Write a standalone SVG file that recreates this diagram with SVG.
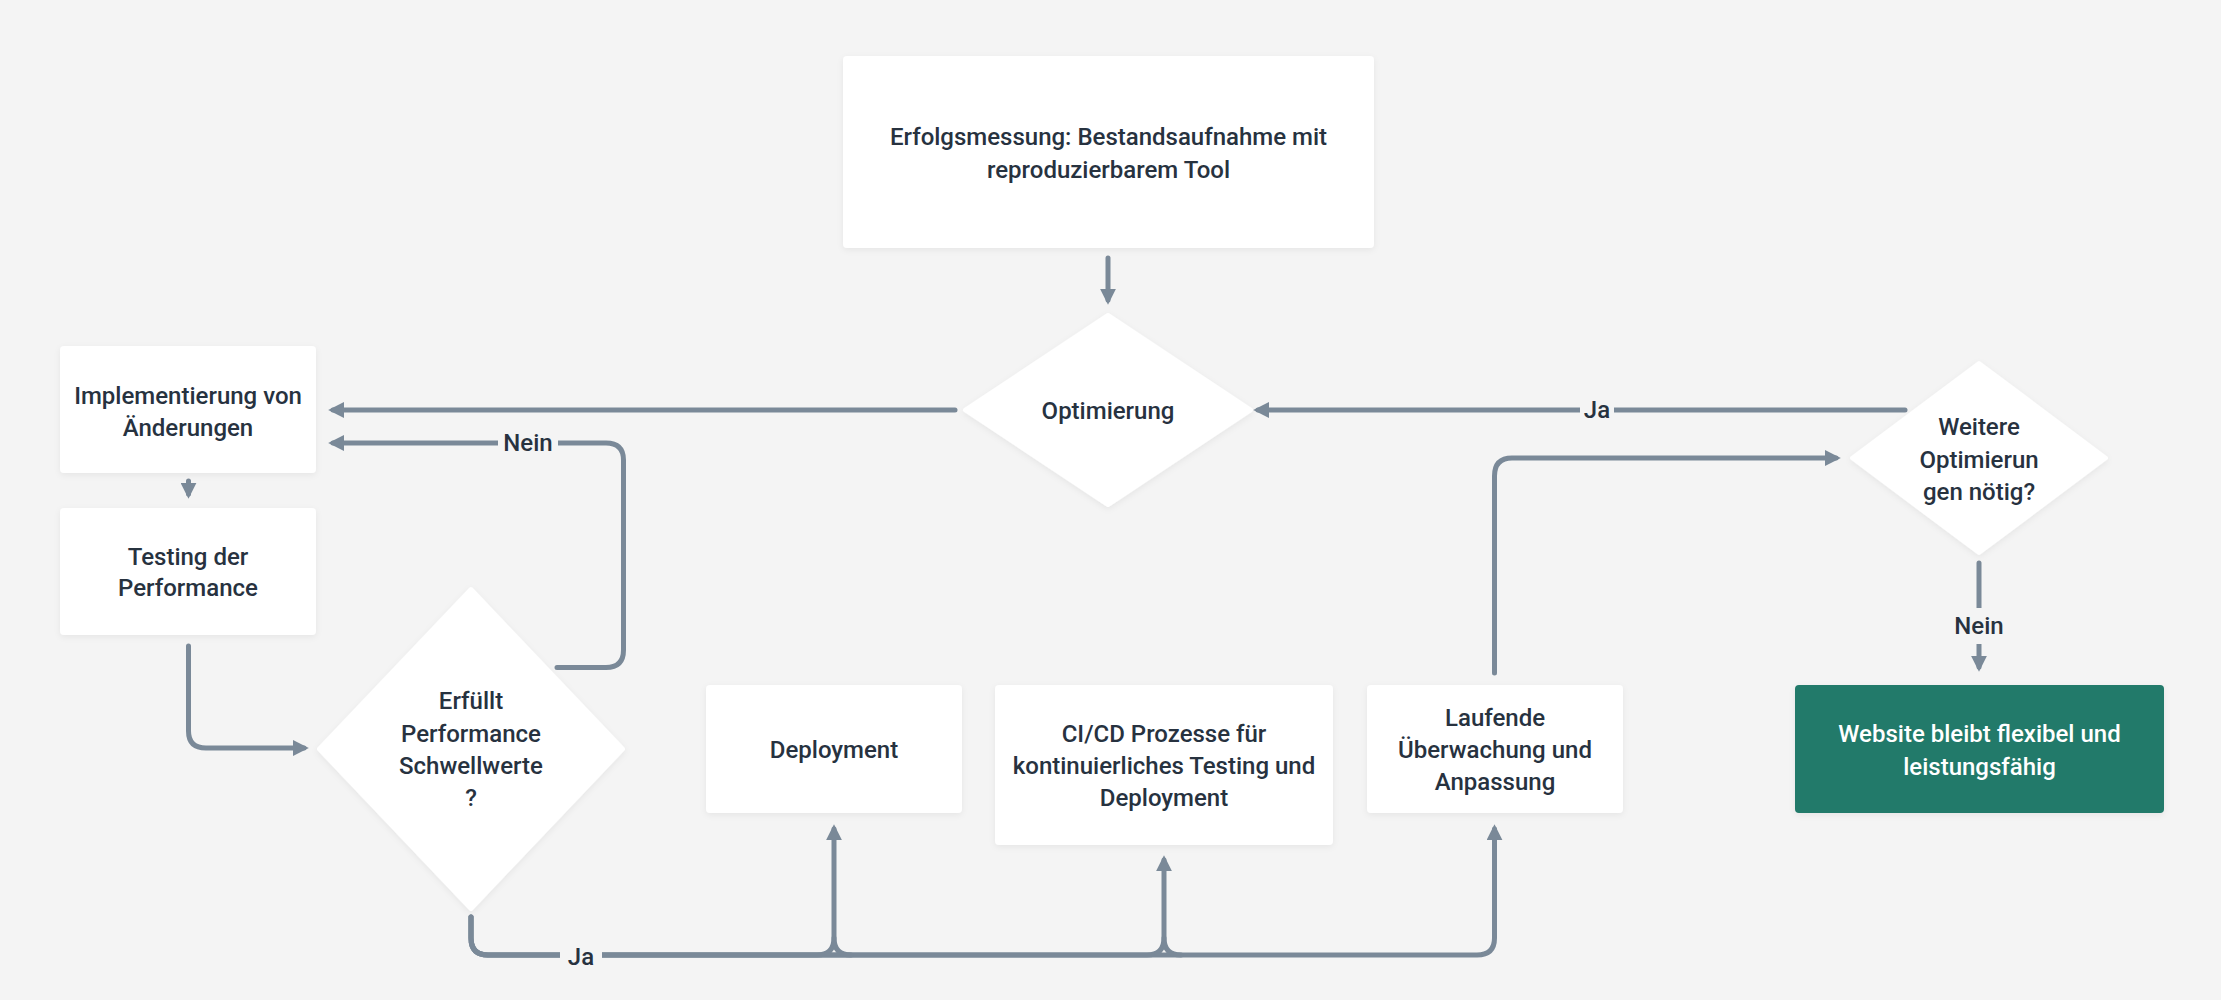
<svg xmlns="http://www.w3.org/2000/svg" width="2221" height="1000" viewBox="0 0 2221 1000">
<defs>
<style>
.bg{fill:#f4f4f4}
.node{fill:#ffffff;filter:url(#sh)}
.term{fill:#207a6a;filter:url(#sh)}
.t{font-family:Roboto,"Liberation Sans",sans-serif;font-size:24px;font-weight:500;fill:#27323f;text-anchor:middle;dominant-baseline:central}
.tw{fill:#ffffff}
.c{fill:none;stroke:#7a8998;stroke-width:5;stroke-linecap:round;stroke-linejoin:round}
.ca{marker-end:url(#ah)}
.lbl{fill:#f4f4f4}
</style>
<filter id="sh" x="-10%" y="-10%" width="120%" height="130%">
<feDropShadow dx="0" dy="2" stdDeviation="3" flood-color="#000" flood-opacity="0.06"/>
</filter>
<marker id="ah" viewBox="0 0 10 10" refX="7" refY="5" markerWidth="3.2" markerHeight="3.2" orient="auto" markerUnits="strokeWidth">
<path d="M0,0 L10,5 L0,10 z" fill="#7a8998"/>
</marker>
</defs>
<rect class="bg" x="0" y="0" width="2221" height="1000"/>

<g id="connectors">
<path class="c ca" d="M1108,258 V300"/>
<path class="c ca" d="M955,410 H333"/>
<path class="c ca" d="M557,667.5 H606 Q623.5,667.5 623.5,650 V460 Q623.5,443 606,443 H333"/>
<path class="c ca" d="M188.5,481 V494"/>
<path class="c ca" d="M188.5,646 V731 Q188.5,748 206,748 H304"/>
<path class="c ca" d="M471,917 V938 Q471,955 488,955 H817 Q834,955 834,938 V829"/>
<path class="c ca" d="M471,917 V938 Q471,955 488,955 H1147 Q1164,955 1164,938 V860"/>
<path class="c ca" d="M471,917 V938 Q471,955 488,955 H1477 Q1494.5,955 1494.5,938 V829"/>
<path class="c" d="M834,938 Q834,955 851,955"/>
<path class="c" d="M1164,938 Q1164,955 1181,955"/>
<path class="c ca" d="M1494.5,673 V476 Q1494.5,458 1512,458 H1836"/>
<path class="c ca" d="M1905,410 H1258"/>
<path class="c ca" d="M1979,563 V667"/>
<rect class="lbl" x="498" y="426" width="60" height="34"/>
<text class="t" x="528" y="443">Nein</text>
<rect class="lbl" x="1580" y="393" width="34" height="34"/>
<text class="t" x="1597" y="410">Ja</text>
<rect class="lbl" x="560" y="940" width="42" height="34"/>
<text class="t" x="581" y="957">Ja</text>
<rect class="lbl" x="1948" y="608" width="62" height="36"/>
<text class="t" x="1979" y="626">Nein</text>
</g>

<g id="n-erfolg">
<rect class="node" x="843" y="56" width="531" height="192" rx="4"/>
<text class="t" x="1108.5" y="137">Erfolgsmessung: Bestandsaufnahme mit</text>
<text class="t" x="1108.5" y="170">reproduzierbarem Tool</text>
</g>
<g id="n-optimierung">
<path class="node" d="M1108,315 L1251,410 L1108,505 L965,410 Z" stroke="#fff" stroke-width="4" stroke-linejoin="round"/>
<text class="t" x="1108" y="411">Optimierung</text>
</g>
<g id="n-impl">
<rect class="node" x="60" y="346" width="256" height="127" rx="4"/>
<text class="t" x="188" y="396">Implementierung von</text>
<text class="t" x="188" y="428">Änderungen</text>
</g>
<g id="n-testing">
<rect class="node" x="60" y="508" width="256" height="127" rx="4"/>
<text class="t" x="188" y="556.5">Testing der</text>
<text class="t" x="188" y="588">Performance</text>
</g>
<g id="n-erfuellt">
<path class="node" d="M471,589 L623,749 L471,909 L319,749 Z" stroke="#fff" stroke-width="4" stroke-linejoin="round"/>
<text class="t" x="471" y="701">Erfüllt</text>
<text class="t" x="471" y="733.5">Performance</text>
<text class="t" x="471" y="766">Schwellwerte</text>
<text class="t" x="471" y="798">?</text>
</g>
<g id="n-deploy">
<rect class="node" x="706" y="685" width="256" height="128" rx="4"/>
<text class="t" x="834" y="750">Deployment</text>
</g>
<g id="n-cicd">
<rect class="node" x="995" y="685" width="338" height="160" rx="4"/>
<text class="t" x="1164" y="734">CI/CD Prozesse für</text>
<text class="t" x="1164" y="766">kontinuierliches Testing und</text>
<text class="t" x="1164" y="798">Deployment</text>
</g>
<g id="n-laufend">
<rect class="node" x="1367" y="685" width="256" height="128" rx="4"/>
<text class="t" x="1495" y="718">Laufende</text>
<text class="t" x="1495" y="750">Überwachung und</text>
<text class="t" x="1495" y="782">Anpassung</text>
</g>
<g id="n-weitere">
<path class="node" d="M1979,363 L2106,458 L1979,553 L1852,458 Z" stroke="#fff" stroke-width="4" stroke-linejoin="round"/>
<text class="t" x="1979" y="427">Weitere</text>
<text class="t" x="1979" y="460">Optimierun</text>
<text class="t" x="1979" y="492">gen nötig?</text>
</g>
<g id="n-website">
<rect class="term" x="1795" y="685" width="369" height="128" rx="4"/>
<text class="t tw" x="1979.5" y="734">Website bleibt flexibel und</text>
<text class="t tw" x="1979.5" y="767">leistungsfähig</text>
</g>
</svg>
